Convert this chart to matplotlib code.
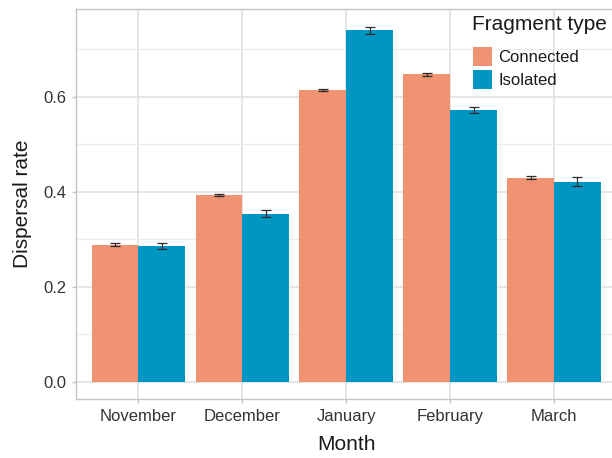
import matplotlib
matplotlib.use("Agg")
import matplotlib.pyplot as plt
import numpy as np

plt.rcParams['font.family'] = ['Liberation Sans', 'DejaVu Sans']

months = ["November", "December", "January", "February", "March"]
connected = [0.288, 0.393, 0.614, 0.647, 0.429]
connected_err = [0.003, 0.003, 0.003, 0.003, 0.003]
isolated = [0.286, 0.354, 0.740, 0.572, 0.421]
isolated_err = [0.007, 0.007, 0.007, 0.007, 0.009]

col_conn = "#F09372"
col_iso = "#0096C3"

W, H = 612, 458
fig = plt.figure(figsize=(W / 100, H / 100), dpi=100)
ax = fig.add_axes([76 / W, 1 - 399 / H, (616.4 - 76) / W, (399 - 9.3) / H])

x = np.arange(len(months))
w = 0.45
ax.bar(x - w / 2, connected, width=w, color=col_conn, label="Connected", zorder=2)
ax.bar(x + w / 2, isolated, width=w, color=col_iso, label="Isolated", zorder=2)
ax.errorbar(x - w / 2, connected, yerr=connected_err, fmt="none", ecolor="#2b2b2b",
            elinewidth=0.9, capsize=3.8, capthick=0.9, zorder=3)
ax.errorbar(x + w / 2, isolated, yerr=isolated_err, fmt="none", ecolor="#2b2b2b",
            elinewidth=0.9, capsize=3.8, capthick=0.9, zorder=3)

ax.set_xlim(-0.6, 4.6)
ax.set_ylim(-0.0365, 0.784)
ax.set_xticks(x)
ax.set_xticklabels(months)
ax.set_yticks([0.0, 0.2, 0.4, 0.6])
ax.set_yticklabels(["0.0", "0.2", "0.4", "0.6"])
ax.set_yticks([0.1, 0.3, 0.5, 0.7], minor=True)

ax.grid(True, which="major", color="#DEDEDE", linewidth=1.1, zorder=0)
ax.grid(True, which="minor", axis="y", color="#EBEBEB", linewidth=0.8, zorder=0)
ax.set_axisbelow(True)

for s in ax.spines.values():
    s.set_color("#C4C4C4")
    s.set_linewidth(1.0)

ax.tick_params(axis="both", which="major", length=3, color="#C4C4C4", width=1.0,
               labelsize=12, labelcolor="#333333", pad=4)
ax.tick_params(axis="y", which="minor", length=0)

ax.set_xlabel("Month", fontsize=15, color="#1a1a1a", labelpad=8)
ax.set_ylabel("Dispersal rate", fontsize=15, color="#1a1a1a", labelpad=8)

# legend title drawn as its own text, keys below it
fig.text(472.5 / W, 1 - 29.5 / H, "Fragment type", fontsize=15, color="#1a1a1a",
         ha="left", va="baseline")
leg = ax.legend(loc="upper left", bbox_to_anchor=(472.5 / W, 1 - 46.5 / H),
                bbox_transform=fig.transFigure, frameon=False, fontsize=12,
                handlelength=1.15, handleheight=1.45, handletextpad=0.4,
                labelspacing=0.2, borderaxespad=0, borderpad=0)
for t in leg.get_texts():
    t.set_color("#1a1a1a")

fig.savefig("out.png", dpi=100)
